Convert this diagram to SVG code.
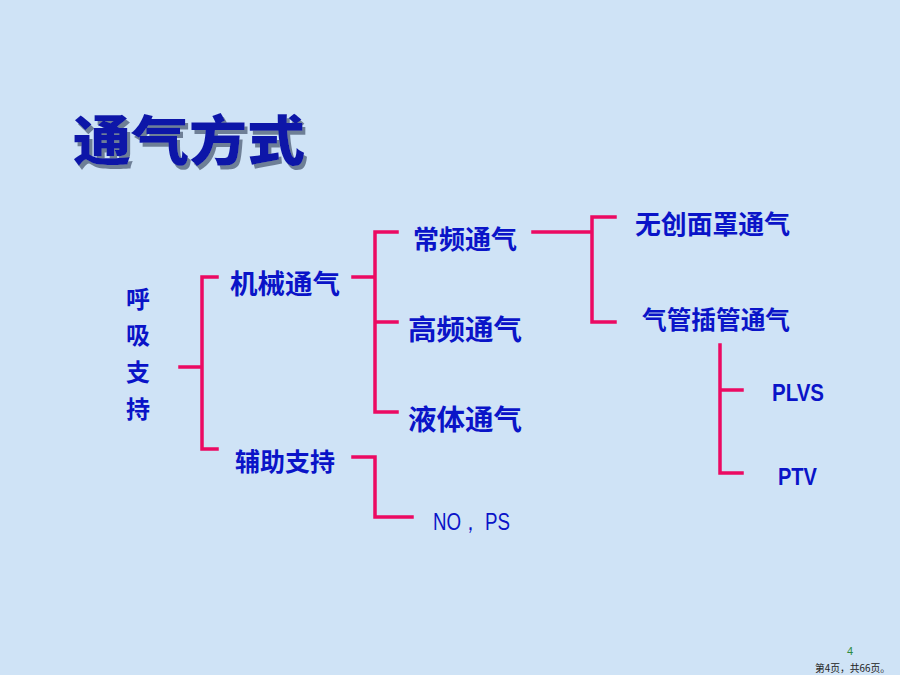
<svg xmlns="http://www.w3.org/2000/svg" width="900" height="675" viewBox="0 0 900 675">
<defs>
<filter id="shadow" x="-10%" y="-20%" width="130%" height="150%">
<feDropShadow dx="3" dy="4" stdDeviation="0.6" flood-color="#6E7F96" flood-opacity="1"/>
</filter>
</defs>
<style>
.cn{font-family:"Noto Sans CJK SC","Noto Sans",sans-serif;font-weight:bold;fill:#0A14C8;dominant-baseline:central}
.lat{font-family:"Liberation Sans","Noto Sans",sans-serif;font-weight:bold;fill:#0A14C8;dominant-baseline:central}
.ln{fill:none;stroke:#EC0A62;stroke-width:3.5;stroke-linecap:square;stroke-linejoin:miter}
.title{font-family:"Noto Sans CJK SC",sans-serif;font-weight:900;font-size:54px;dominant-baseline:central}
</style>
<rect width="900" height="675" fill="#CFE3F6"/>
<g id="title">
<text class="title" x="189" y="137" text-anchor="middle" fill="#1018A8" filter="url(#shadow)" textLength="232" lengthAdjust="spacingAndGlyphs">通气方式</text>
</g>
<g id="connectors">
<path class="ln" d="M180,367 H202 M217,277 H202 V449 H217"/>
<path class="ln" d="M353,277 H375 M397,232 H375 V412 H397 M375,322 H397"/>
<path class="ln" d="M353,457 H375 V517 H412"/>
<path class="ln" d="M533,232 H592 M615,217 H592 V322 H615"/>
<path class="ln" d="M720,345 V473 H742 M720,390 H742"/>
</g>
<g id="node-huxi">
<text class="cn" x="138" y="297" font-size="24" text-anchor="middle">呼</text>
<text class="cn" x="138" y="333" font-size="24" text-anchor="middle">吸</text>
<text class="cn" x="138" y="370" font-size="24" text-anchor="middle">支</text>
<text class="cn" x="138" y="407" font-size="24" text-anchor="middle">持</text>
</g>
<g id="node-jixie"><text class="cn" x="230" y="282" font-size="27" textLength="110" lengthAdjust="spacingAndGlyphs">机械通气</text></g>
<g id="node-fuzhu"><text class="cn" x="235" y="460" font-size="25" textLength="100" lengthAdjust="spacingAndGlyphs">辅助支持</text></g>
<g id="node-changpin"><text class="cn" x="413" y="237" font-size="26" textLength="104" lengthAdjust="spacingAndGlyphs">常频通气</text></g>
<g id="node-gaopin"><text class="cn" x="408" y="328" font-size="28" textLength="114" lengthAdjust="spacingAndGlyphs">高频通气</text></g>
<g id="node-yeti"><text class="cn" x="408" y="418" font-size="28" textLength="114" lengthAdjust="spacingAndGlyphs">液体通气</text></g>
<g id="node-nops"><text x="433" y="522" font-family="'Liberation Sans Narrow','Liberation Sans',sans-serif" font-size="23" fill="#0A14C8" dominant-baseline="central" textLength="77" lengthAdjust="spacingAndGlyphs">NO， PS</text></g>
<g id="node-wuchuang"><text class="cn" x="635" y="222" font-size="26" textLength="155" lengthAdjust="spacingAndGlyphs">无创面罩通气</text></g>
<g id="node-qiguan"><text class="cn" x="642" y="318" font-size="25" textLength="148" lengthAdjust="spacingAndGlyphs">气管插管通气</text></g>
<g id="node-plvs"><text class="lat" x="772" y="393" font-size="23" textLength="52" lengthAdjust="spacingAndGlyphs">PLVS</text></g>
<g id="node-ptv"><text class="lat" x="778" y="477" font-size="23" textLength="39" lengthAdjust="spacingAndGlyphs">PTV</text></g>
<g id="footer">
<text x="850" y="651" font-family="'Liberation Sans',sans-serif" font-size="11" fill="#2E8B3E" text-anchor="middle" dominant-baseline="central">4</text>
<text x="815" y="667" font-family="'Noto Sans CJK SC',sans-serif" font-size="10" fill="#222" dominant-baseline="central" textLength="75" lengthAdjust="spacingAndGlyphs">第4页，共66页。</text>
</g>
</svg>
